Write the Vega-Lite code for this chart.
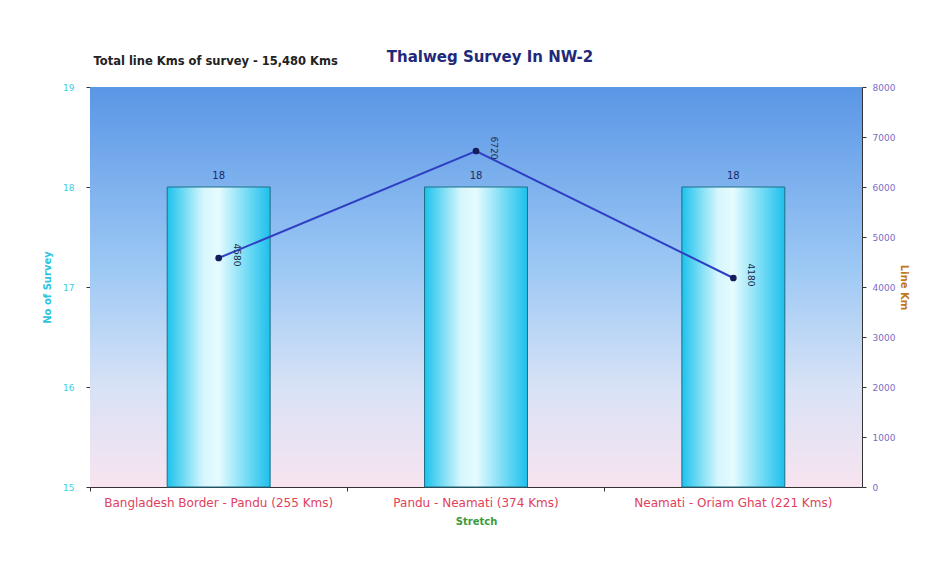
{
  "$schema": "https://vega.github.io/schema/vega-lite/v6.json",
  "width": 772,
  "height": 400,
  "autosize": "none",
  "padding": {"left": 90, "top": 87, "right": 81, "bottom": 77},
  "background": "#ffffff",
  "config": {
    "font": "DejaVu Sans",
    "view": {"stroke": null}
  },
  "title": {
    "text": "Thalweg Survey In NW-2",
    "anchor": "middle",
    "dx": 14,
    "offset": -9,
    "fontSize": 15,
    "fontWeight": "bold",
    "color": "#1f2a7a"
  },
  "data": {
    "values": [
      {"stretch": "Bangladesh Border - Pandu (255 Kms)", "surveys": 18, "km": 4580},
      {"stretch": "Pandu - Neamati (374 Kms)", "surveys": 18, "km": 6720},
      {"stretch": "Neamati - Oriam Ghat (221 Kms)", "surveys": 18, "km": 4180}
    ]
  },
  "encoding": {
    "x": {
      "field": "stretch",
      "type": "nominal",
      "sort": null,
      "scale": {"paddingInner": 0, "paddingOuter": 0},
      "axis": {
        "title": "Stretch",
        "titleColor": "#3a9a3a",
        "titleFontSize": 10,
        "titleFontWeight": "bold",
        "titlePadding": 8,
        "labelAngle": 0,
        "labelColor": "#e0405a",
        "labelFontSize": 12,
        "labelLimit": 400,
        "labelPadding": 6,
        "bandPosition": 0,
        "domainColor": "#333333",
        "tickColor": "#333333",
        "tickSize": 4
      }
    }
  },
  "layer": [
    {
      "layer": [
        {
          "data": {"values": [{"bg": 1}]},
          "mark": {
            "type": "rect",
            "color": {
              "gradient": "linear",
              "x1": 0, "y1": 0, "x2": 0, "y2": 1,
              "stops": [
                {"offset": 0, "color": "#5a96e6"},
                {"offset": 0.45, "color": "#9cc8f4"},
                {"offset": 0.75, "color": "#d8e2f6"},
                {"offset": 1, "color": "#f8e4f0"}
              ]
            }
          },
          "encoding": {
            "x": null,
            "y": {"datum": 19, "type": "quantitative", "scale": {"domain": [15, 19], "zero": false}},
            "y2": {"datum": 15}
          }
        },
        {
          "mark": {
            "type": "bar",
            "width": {"band": 0.4},
            "stroke": "#1c6e86",
            "strokeWidth": 1,
            "color": {
              "gradient": "linear",
              "x1": 0, "y1": 0, "x2": 1, "y2": 0,
              "stops": [
                {"offset": 0, "color": "#1cc2ec"},
                {"offset": 0.35, "color": "#d6f6fd"},
                {"offset": 0.5, "color": "#e6fbff"},
                {"offset": 0.8, "color": "#6ad8f4"},
                {"offset": 1, "color": "#1ec0ec"}
              ]
            }
          },
          "encoding": {
            "y": {
              "field": "surveys",
              "type": "quantitative",
              "scale": {"domain": [15, 19], "zero": false},
              "axis": {
                "title": "No of Survey",
                "titleColor": "#2ec4e0",
                "titleFontSize": 10,
                "titleFontWeight": "bold",
                "titlePadding": 10,
                "values": [15, 16, 17, 18, 19],
                "format": "d",
                "labelColor": "#3ccfe0",
                "labelFontSize": 9,
                "labelPadding": 12,
                "grid": false,
                "domainColor": "#333333",
                "tickColor": "#333333",
                "tickSize": 4
              }
            },
            "y2": {"datum": 15}
          }
        },
        {
          "mark": {"type": "text", "dy": -6, "fontSize": 10, "color": "#1a2a6a", "baseline": "bottom"},
          "encoding": {
            "y": {"field": "surveys", "type": "quantitative"},
            "text": {"field": "surveys", "type": "quantitative"}
          }
        },
        {
          "data": {"values": [{"stretch": "Bangladesh Border - Pandu (255 Kms)", "note": "Total line Kms of survey - 15,480 Kms"}]},
          "mark": {"type": "text", "dy": -25, "dx": -3, "fontSize": 11.5, "fontWeight": "bold", "color": "#222222"},
          "encoding": {
            "y": {"datum": 19, "type": "quantitative"},
            "text": {"field": "note"}
          }
        }
      ]
    },
    {
      "layer": [
        {
          "mark": {"type": "line", "color": "#2f3fc4", "strokeWidth": 2},
          "encoding": {
            "y": {
              "field": "km",
              "type": "quantitative",
              "scale": {"domain": [0, 8000]},
              "axis": {
                "orient": "right",
                "title": "Line Km",
                "titleColor": "#c07818",
                "titleFontSize": 10,
                "titleFontWeight": "bold",
                "titlePadding": 4,
                "values": [0, 1000, 2000, 3000, 4000, 5000, 6000, 7000, 8000],
                "format": "d",
                "labelColor": "#7a6cc4",
                "labelFontSize": 9,
                "labelPadding": 6,
                "grid": false,
                "domainColor": "#333333",
                "tickColor": "#333333",
                "tickSize": 4
              }
            }
          }
        },
        {
          "mark": {"type": "point", "filled": true, "size": 45, "color": "#141c5a", "opacity": 1},
          "encoding": {
            "y": {"field": "km", "type": "quantitative"}
          }
        },
        {
          "mark": {"type": "text", "angle": 90, "dx": -3, "dy": -18, "fontSize": 9, "color": "#1a2a4a", "align": "center", "baseline": "middle"},
          "encoding": {
            "y": {"field": "km", "type": "quantitative"},
            "text": {"field": "km", "type": "quantitative", "format": "d"}
          }
        }
      ]
    }
  ],
  "resolve": {"scale": {"y": "independent"}}
}
